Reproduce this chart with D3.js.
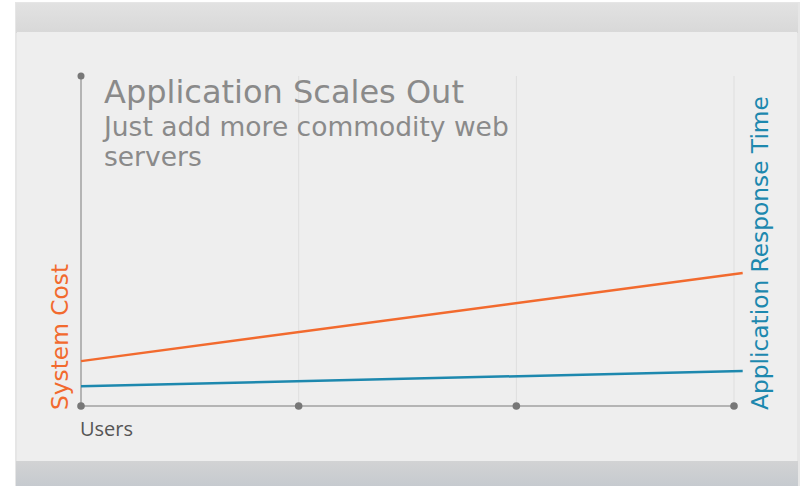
<!DOCTYPE html>
<html>
<head>
<meta charset="utf-8">
<script src="https://cdn.jsdelivr.net/npm/d3@7"></script>
<style>
  html, body { margin: 0; padding: 0; background: #fff; }
  svg { display: block; }
</style>
</head>
<body>
<div id="chart"></div>
<script>
// Data
const userTicks = [0, 1, 2, 3];
const lineUsers = [0, 3.04];
const systemCost = [1.36, 4.03];
const responseTime = [0.6, 1.06];

const title = "Application Scales Out";
const subtitleLines = ["Just add more commodity web", "servers"];

const width = 802, height = 486;

const svg = d3.select("#chart")
  .append("svg")
  .attr("width", width)
  .attr("height", height);

const defs = svg.append("defs");
const topGrad = defs.append("linearGradient").attr("id", "topGrad")
  .attr("x1", 0).attr("y1", 0).attr("x2", 0).attr("y2", 1);
topGrad.append("stop").attr("offset", "0%").attr("stop-color", "#e2e2e2");
topGrad.append("stop").attr("offset", "100%").attr("stop-color", "#d8d8d8");
const botGrad = defs.append("linearGradient").attr("id", "botGrad")
  .attr("x1", 0).attr("y1", 0).attr("x2", 0).attr("y2", 1);
botGrad.append("stop").attr("offset", "0%").attr("stop-color", "#d2d3d4");
botGrad.append("stop").attr("offset", "100%").attr("stop-color", "#c6cacf");

// slide panel
svg.append("rect")
  .attr("x", 15).attr("y", 2).attr("width", 785).attr("height", 484)
  .attr("fill", "#e6e6e6");
svg.append("rect")
  .attr("x", 16).attr("y", 3).attr("width", 782).attr("height", 30)
  .attr("fill", "url(#topGrad)");
svg.append("rect")
  .attr("x", 17).attr("y", 32).attr("width", 780).attr("height", 429)
  .attr("fill", "#eeeeee");
svg.append("rect")
  .attr("x", 16).attr("y", 461).attr("width", 782).attr("height", 25)
  .attr("fill", "url(#botGrad)");

// scales
const x = d3.scaleLinear().domain([0, 3]).range([81, 734]);
const y = d3.scaleLinear().domain([0, 10]).range([406, 76]);

const g = svg.append("g");

// vertical grid lines
g.selectAll(".grid")
  .data(userTicks.slice(1))
  .join("line")
  .attr("class", "grid")
  .attr("x1", d => x(d)).attr("x2", d => x(d))
  .attr("y1", y(10)).attr("y2", y(0))
  .attr("stroke", "#dedede")
  .attr("stroke-width", 1);

// axes
g.append("line")
  .attr("x1", x(0)).attr("x2", x(0))
  .attr("y1", y(10)).attr("y2", y(0))
  .attr("stroke", "#a0a0a0").attr("stroke-width", 1.5);
g.append("line")
  .attr("x1", x(0)).attr("x2", x(3))
  .attr("y1", y(0)).attr("y2", y(0))
  .attr("stroke", "#a0a0a0").attr("stroke-width", 1.5);

g.append("circle")
  .attr("cx", x(0)).attr("cy", y(10)).attr("r", 3.5)
  .attr("fill", "#777");
g.selectAll(".tick-dot")
  .data(userTicks)
  .join("circle")
  .attr("class", "tick-dot")
  .attr("cx", d => x(d)).attr("cy", y(0)).attr("r", 3.8)
  .attr("fill", "#777");

// series lines
const line = d3.line()
  .x(d => x(d[0]))
  .y(d => y(d[1]));

g.append("path")
  .datum(d3.zip(lineUsers, systemCost))
  .attr("d", line)
  .attr("fill", "none")
  .attr("stroke", "#f26a2e")
  .attr("stroke-width", 2.5);

g.append("path")
  .datum(d3.zip(lineUsers, responseTime))
  .attr("d", line)
  .attr("fill", "none")
  .attr("stroke", "#1d88ae")
  .attr("stroke-width", 2.5);

// titles
g.append("text")
  .attr("x", 104).attr("y", 103)
  .attr("font-family", "DejaVu Sans")
  .attr("font-size", 32)
  .attr("fill", "#8a8a8a")
  .text(title);

g.selectAll(".sub")
  .data(subtitleLines)
  .join("text")
  .attr("class", "sub")
  .attr("x", 104).attr("y", (d, i) => 136 + i * 30)
  .attr("font-family", "DejaVu Sans")
  .attr("font-size", 26.5)
  .attr("fill", "#8a8a8a")
  .text(d => d);

// axis labels
g.append("text")
  .attr("x", 80).attr("y", 436)
  .attr("font-family", "Open Sans")
  .attr("font-size", 20)
  .attr("fill", "#555")
  .text("Users");

g.append("text")
  .attr("transform", "translate(68,410) rotate(-90)")
  .attr("font-family", "DejaVu Sans")
  .attr("font-size", 23.3)
  .attr("fill", "#f26a2e")
  .text("System Cost");

g.append("text")
  .attr("transform", "translate(768,410) rotate(-90)")
  .attr("font-family", "DejaVu Sans")
  .attr("font-size", 23.3)
  .attr("fill", "#1d88ae")
  .text("Application Response Time");
</script>
</body>
</html>
